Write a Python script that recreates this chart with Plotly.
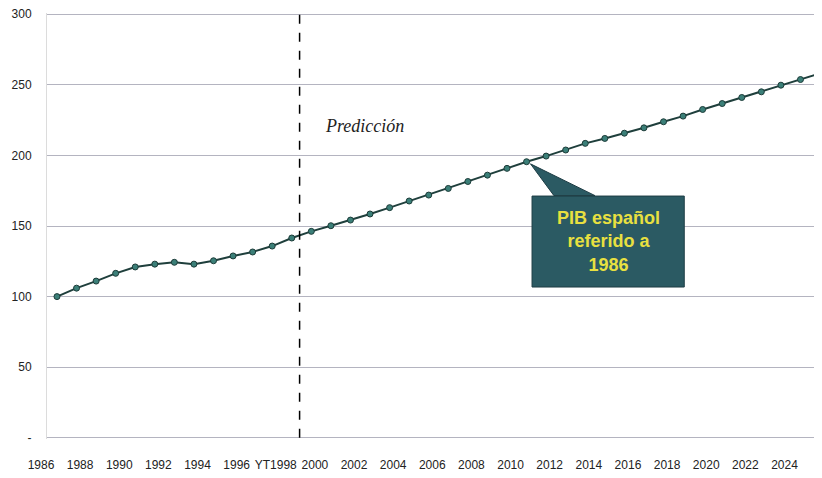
import plotly.graph_objects as go

# indice del PIB espanol (1986 = 100), real hasta 1998 y prediccion despues
years = list(range(1986, 2026))
pib = [100, 106, 111, 116.5, 121, 123, 124.3, 123, 125.4, 128.8,
       131.6, 135.8, 141.5, 146.2, 150.2, 154.2, 158.5, 163, 167.7, 171.9,
       176.6, 181.5, 186, 190.8, 195.5, 199.5, 203.8, 208.5, 212, 215.7,
       219.5, 223.8, 227.8, 232.5, 236.7, 241, 245, 249.7, 253.7, 258]

x_tick_years = list(range(1986, 2026, 2))
x_tick_text = [str(y) if y != 1998 else "YT1998" for y in x_tick_years]
y_tick_vals = [0, 50, 100, 150, 200, 250, 300]
y_tick_text = ["-", "50", "100", "150", "200", "250", "300"]

prediction_start = 1998.4
callout_year = 2010

fig = go.Figure()
fig.add_trace(go.Scatter(x=years, y=pib,
                         mode="lines+markers",
                         line=dict(color="#1f3f3c", width=2),
                         marker=dict(size=6, color="#3b7f78",
                                     line=dict(color="#1c3b38", width=1)),
                         showlegend=False))

# linea de separacion de la prediccion
fig.add_shape(type="line", x0=prediction_start, x1=prediction_start, y0=0, y1=300,
              xref="x", yref="y", line=dict(color="black", width=1.5, dash="dash"))

fig.add_annotation(x=1999.6, y=221, xref="x", yref="y", text="<i>Predicción</i>",
                   showarrow=False, xanchor="left",
                   font=dict(family="Liberation Serif", size=18, color="#222"))

# bocadillo
tip_x = callout_year + 0.2
tip_y = pib[years.index(callout_year)] - 1.5
fig.add_shape(type="path", xref="x", yref="y",
              path=f"M {tip_x},{tip_y} L 2011.4,171.5 L 2013.5,171.5 Z",
              fillcolor="#2b5a63", line=dict(color="#1d3c44", width=1))
fig.add_shape(type="rect", xref="x", yref="y",
              x0=2010.28, x1=2018.06, y0=106.8, y1=171.2,
              fillcolor="#2b5a63", line=dict(color="#1d3c44", width=1))
fig.add_annotation(x=2014.17, y=139, xref="x", yref="y",
                   text="PIB español<br>referido a<br>1986", showarrow=False,
                   font=dict(family="Liberation Sans", size=18, color="#e8e040", weight="bold"))

# la pagina tiene 8px de margen en el body
fig.update_layout(width=814, height=470,
                  margin=dict(l=39, r=0, t=5, b=39),
                  paper_bgcolor="white", plot_bgcolor="white",
                  font=dict(family="Liberation Sans", size=12, color="#222"))
fig.update_xaxes(range=[1985.49, 2025.1], tickvals=x_tick_years, ticktext=x_tick_text,
                 showgrid=False, zeroline=False, ticks="", automargin=False,
                 ticklabelshift=-16, ticklabelstandoff=17, ticklabeloverflow="allow")
fig.update_yaxes(range=[-0.8, 300.8], tickvals=y_tick_vals, ticktext=y_tick_text,
                 showgrid=True, gridcolor="#b4b4c0", gridwidth=1,
                 zeroline=False, showline=True, linecolor="#dcdcdc",
                 ticks="", automargin=False, ticklabelstandoff=12,
                 ticklabeloverflow="allow")

fig.write_html("out.html")
